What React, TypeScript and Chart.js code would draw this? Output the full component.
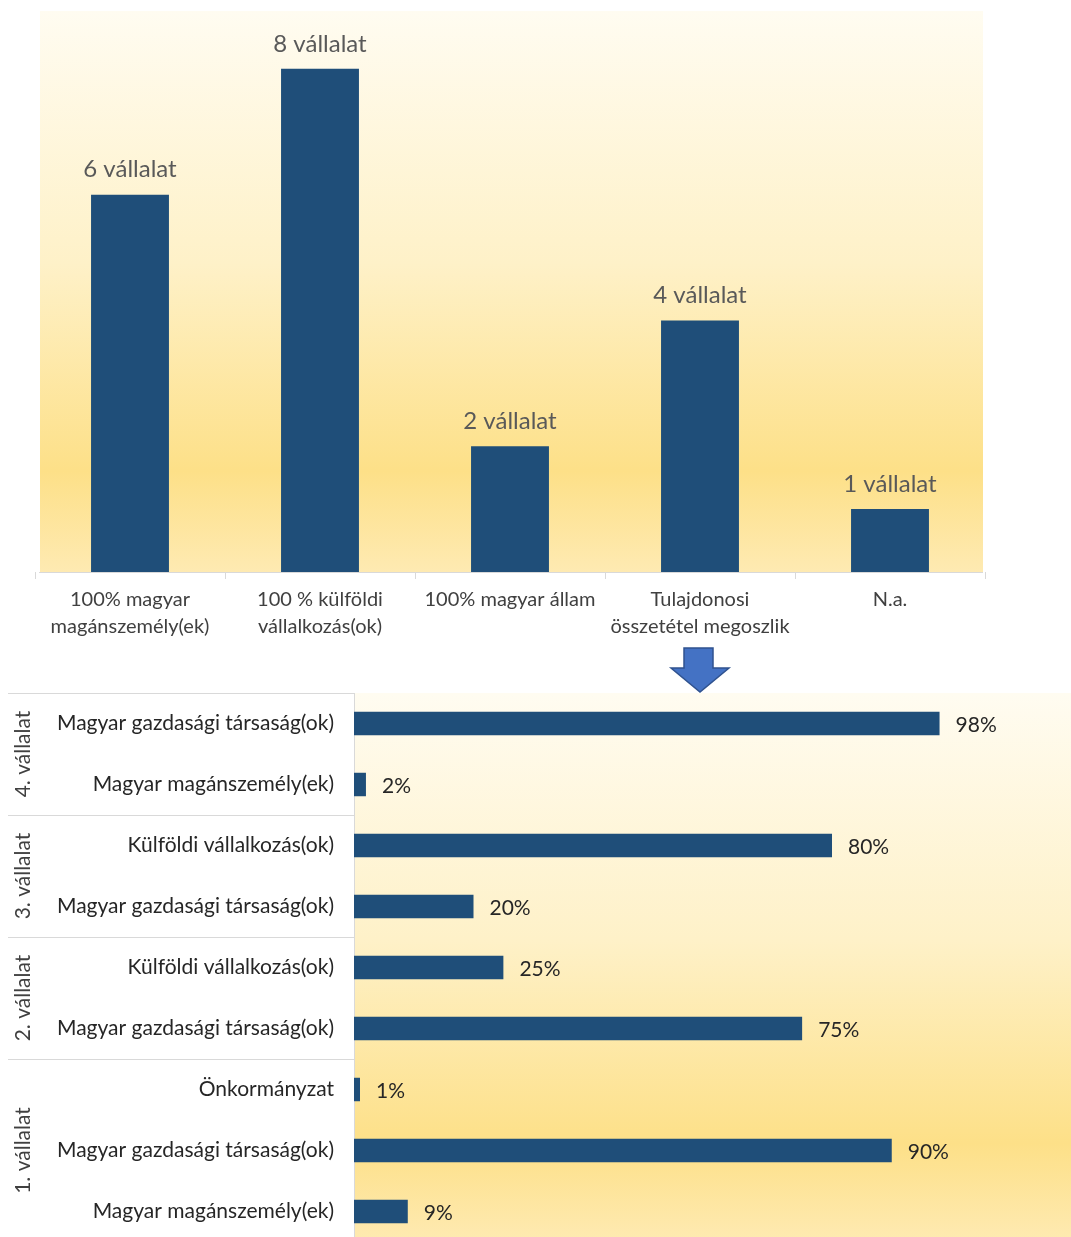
import React, { useEffect, useRef } from "react";
import { Chart, registerables } from "chart.js";

Chart.register(...registerables);

const topCategories: string[][] = [
  ["100% magyar", "magánszemély(ek)"],
  ["100 % külföldi", "vállalkozás(ok)"],
  ["100% magyar állam"],
  ["Tulajdonosi", "összetétel megoszlik"],
  ["N.a."],
];
const topValues = [6, 8, 2, 4, 1];
const topLabelSuffix = " vállalat";

const bottomLabels = [
  "Magyar gazdasági társaság(ok)",
  "Magyar magánszemély(ek)",
  "Külföldi vállalkozás(ok)",
  "Magyar gazdasági társaság(ok)",
  "Külföldi vállalkozás(ok)",
  "Magyar gazdasági társaság(ok)",
  "Önkormányzat",
  "Magyar gazdasági társaság(ok)",
  "Magyar magánszemély(ek)",
];
const bottomValues = [0.98, 0.02, 0.8, 0.2, 0.25, 0.75, 0.01, 0.9, 0.09];
const groupNames = ["4. vállalat", "3. vállalat", "2. vállalat", "1. vállalat"];
const groupSizes = [2, 2, 2, 3];

const FONT = "Lato, 'Open Sans', sans-serif";
const BAR = "#1f4e79";
const GRID = "#d9d9d9";

function makeGradient(ctx: CanvasRenderingContext2D, top: number, bottom: number) {
  const g = ctx.createLinearGradient(0, top, 0, bottom);
  g.addColorStop(0, "#fffcf1");
  g.addColorStop(0.45, "#fef1c8");
  g.addColorStop(0.82, "#fde088");
  g.addColorStop(1, "#feeab2");
  return g;
}

function bgPlugin(insetLeft: number, insetRight: number, axisLine: boolean) {
  return {
    id: "bgGrad",
    beforeDraw(chart: any) {
      const { ctx, chartArea } = chart;
      if (!chartArea) return;
      const l = chartArea.left + insetLeft;
      const r = chartArea.right - insetRight;
      ctx.save();
      ctx.fillStyle = makeGradient(ctx, chartArea.top, chartArea.bottom);
      ctx.fillRect(l, chartArea.top, r - l, chartArea.bottom - chartArea.top);
      ctx.restore();
    },
    afterDraw(chart: any) {
      if (!axisLine) return;
      const { ctx, chartArea } = chart;
      const l = chartArea.left + insetLeft;
      const r = chartArea.right - insetRight;
      ctx.save();
      ctx.strokeStyle = GRID;
      ctx.lineWidth = 1;
      ctx.beginPath();
      ctx.moveTo(l - 1, Math.round(chartArea.bottom) + 0.5);
      ctx.lineTo(r, Math.round(chartArea.bottom) + 0.5);
      ctx.stroke();
      ctx.restore();
    },
  };
}

const topLabelsPlugin = {
  id: "topLabels",
  afterDatasetsDraw(chart: any) {
    const { ctx } = chart;
    const meta = chart.getDatasetMeta(0);
    ctx.save();
    ctx.font = `24px ${FONT}`;
    ctx.fillStyle = "#595959";
    ctx.textAlign = "center";
    ctx.textBaseline = "middle";
    meta.data.forEach((el: any, i: number) => {
      ctx.fillText(`${topValues[i]}${topLabelSuffix}`, el.x, el.y - 25);
    });
    ctx.restore();
  },
};

const bottomLabelsPlugin = {
  id: "bottomLabels",
  afterDatasetsDraw(chart: any) {
    const { ctx } = chart;
    const meta = chart.getDatasetMeta(0);
    ctx.save();
    ctx.font = `21px ${FONT}`;
    ctx.fillStyle = "#262626";
    ctx.textAlign = "left";
    ctx.textBaseline = "middle";
    meta.data.forEach((el: any, i: number) => {
      ctx.fillText(`${Math.round(bottomValues[i] * 100)}%`, el.x + 16, el.y + 2);
    });
    ctx.restore();
  },
  afterDraw(chart: any) {
    const { ctx, chartArea } = chart;
    const yScale = chart.scales.y;
    const n = bottomLabels.length;
    const centers = bottomLabels.map((_, i) => yScale.getPixelForTick(i));
    const step = n > 1 ? centers[1] - centers[0] : chartArea.bottom - chartArea.top;
    ctx.save();
    ctx.strokeStyle = GRID;
    ctx.lineWidth = 1;
    let idx = 0;
    groupNames.forEach((name, g) => {
      const top = centers[idx] - step / 2;
      const last = idx + groupSizes[g] - 1;
      const bottom = centers[last] + step / 2;
      ctx.beginPath();
      ctx.moveTo(8, Math.round(top) + 0.5);
      ctx.lineTo(chartArea.left, Math.round(top) + 0.5);
      ctx.stroke();
      ctx.save();
      ctx.translate(23, (top + bottom) / 2);
      ctx.rotate(-Math.PI / 2);
      ctx.font = `21px ${FONT}`;
      ctx.fillStyle = "#404040";
      ctx.textAlign = "center";
      ctx.textBaseline = "middle";
      ctx.fillText(name, 0, 0);
      ctx.restore();
      idx = last + 1;
    });
    ctx.restore();
  },
};

function TopChart() {
  const ref = useRef<HTMLCanvasElement>(null);
  useEffect(() => {
    if (!ref.current) return;
    const chart = new Chart(ref.current, {
      type: "bar",
      data: {
        labels: topCategories,
        datasets: [
          {
            data: topValues,
            backgroundColor: BAR,
            borderWidth: 0,
            categoryPercentage: 1,
            barPercentage: 0.41,
          },
        ],
      },
      options: {
        animation: false,
        responsive: false,
        layout: { padding: { left: 35, right: 86, top: 11, bottom: 0 } },
        plugins: { legend: { display: false }, tooltip: { enabled: false } },
        scales: {
          x: {
            offset: true,
            border: { display: false },
            grid: { display: true, drawOnChartArea: false, drawTicks: true, tickLength: 7, color: GRID, offset: true },
            ticks: {
              color: "#404040",
              font: { family: FONT, size: 20, lineHeight: 1.35 },
              maxRotation: 0,
              autoSkip: false,
              padding: 7,
            },
            afterFit: (scale: any) => {
              scale.height = 73;
            },
          },
          y: { display: false, min: 0, max: 8.92 },
        },
      },
      plugins: [bgPlugin(5, 2, true), topLabelsPlugin],
    });
    return () => chart.destroy();
  }, []);
  return <canvas ref={ref} width={1071} height={645} style={{ position: "absolute", left: 0, top: 0 }} />;
}

function BottomChart() {
  const ref = useRef<HTMLCanvasElement>(null);
  useEffect(() => {
    if (!ref.current) return;
    const chart = new Chart(ref.current, {
      type: "bar",
      data: {
        labels: bottomLabels,
        datasets: [
          {
            data: bottomValues,
            backgroundColor: BAR,
            borderWidth: 0,
            categoryPercentage: 1,
            barPercentage: 0.385,
          },
        ],
      },
      options: {
        indexAxis: "y",
        animation: false,
        responsive: false,
        layout: { padding: { left: 0, right: 0, top: 13, bottom: 0 } },
        plugins: { legend: { display: false }, tooltip: { enabled: false } },
        scales: {
          x: { display: false, min: 0, max: 1.2 },
          y: {
            border: { display: true, color: GRID, width: 1 },
            grid: { display: false, drawTicks: false },
            ticks: {
              color: "#262626",
              font: { family: FONT, size: 21 },
              padding: 20,
              autoSkip: false,
            },
            afterFit: (scale: any) => {
              scale.width = 354;
              scale.paddingTop = 0;
              scale.paddingBottom = 0;
            },
          },
        },
      },
      plugins: [bgPlugin(0, 0, false), bottomLabelsPlugin],
    });
    return () => chart.destroy();
  }, []);
  return <canvas ref={ref} width={1071} height={562} style={{ position: "absolute", left: 0, top: 680 }} />;
}

function Arrow() {
  return (
    <svg width={70} height={52} style={{ position: "absolute", left: 665, top: 644 }}>
      <path
        d="M19 4 L48 4 L48 24 L64 24 L35 48 L6 24 L19 24 Z"
        fill="#4472c4"
        stroke="#2f528f"
        strokeWidth={1.5}
        strokeLinejoin="miter"
      />
    </svg>
  );
}

export default function App() {
  return (
    <div style={{ position: "absolute", left: 0, top: 0, width: 1071, height: 1237, background: "#fff", overflow: "hidden" }}>
      <TopChart />
      <BottomChart />
      <Arrow />
    </div>
  );
}
